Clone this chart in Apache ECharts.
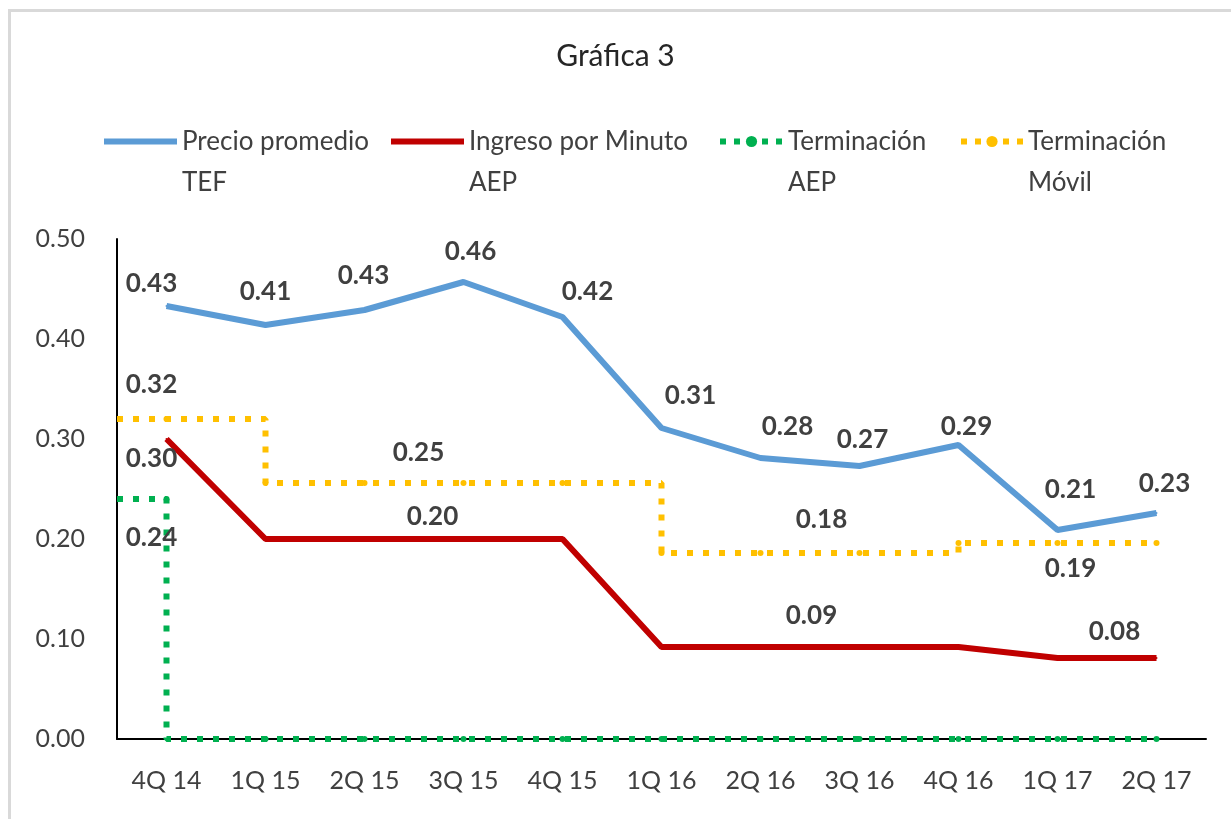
<!DOCTYPE html>
<html>
<head>
<meta charset="utf-8">
<script src="https://cdn.jsdelivr.net/npm/echarts@6/dist/echarts.min.js"></script>
<style>
  html, body { margin: 0; padding: 0; background: #ffffff; }
  #frame { position: absolute; left: 8px; top: 9px; width: 3000px; height: 3000px;
           border-left: 3px solid #d9d9d9; border-top: 3px solid #d9d9d9; box-sizing: border-box; }
  #chart { position: absolute; left: 0; top: 0; width: 1231px; height: 819px; }
</style>
</head>
<body>
<div id="frame"></div>
<div id="chart"></div>
<script>
// ---- data ----
const categories = ['4Q 14', '1Q 15', '2Q 15', '3Q 15', '4Q 15', '1Q 16', '2Q 16', '3Q 16', '4Q 16', '1Q 17', '2Q 17'];
const yTicks = [0.0, 0.1, 0.2, 0.3, 0.4, 0.5];
const seriesNames = ['Precio promedio\nTEF', 'Ingreso por Minuto\nAEP', 'Terminación\nAEP', 'Terminación\nMóvil'];
const precioTEF = [0.433, 0.414, 0.429, 0.457, 0.422, 0.311, 0.281, 0.273, 0.294, 0.209, 0.226];
const ingresoAEP = [0.30, 0.20, 0.20, 0.20, 0.20, 0.092, 0.092, 0.092, 0.092, 0.081, 0.081];
const terminacionAEP = [0.24, 0, 0, 0, 0, 0, 0, 0, 0, 0, 0];
const terminacionMovil = [0.32, 0.256, 0.256, 0.256, 0.256, 0.186, 0.186, 0.186, 0.196, 0.196, 0.196];

// ---- styles (label placement per point, px offsets from the point) ----
const labelOffsets = {
  tef: {0: [-15, -22], 1: [0, -33], 2: [-1, -34], 3: [7, -30], 4: [25, -25], 5: [29, -32], 6: [27, -31], 7: [3, -26], 8: [8, -18], 9: [13, -40], 10: [8, -29]},
  aep: {0: [-15, 20], 3: [-31, -22], 7: [-48, -31], 10: [-42, -26]},
  tAep: {0: [-15, 39]},
  movil: {0: [-15, -34], 3: [-45, -30], 7: [-38, -33], 9: [13, 26]}
};
const FONT = 'Lato, "Open Sans", sans-serif';
const labelFont = { fontFamily: FONT, fontSize: 26, fontWeight: 'bold', color: '#404040' };

const round2 = v => v.toFixed(2);
const trunc2 = v => (Math.floor(v * 100 + 1e-6) / 100).toFixed(2);

function catData(values, offsets, fmt) {
  return values.map((v, i) => {
    const o = offsets[i];
    return o ? { value: v, label: Object.assign({ show: true, position: 'inside', offset: o, formatter: () => fmt(v) }, labelFont) } : { value: v };
  });
}
// step data on the hidden value x-axis (category index units), starting at the plot's left edge
function stepData(values, offsets, fmt) {
  const out = [{ value: [-0.5, values[0]], symbol: 'none' }];
  values.forEach((v, i) => {
    const o = offsets[i];
    const d = { value: [i, v] };
    if (o) d.label = Object.assign({ show: true, position: 'inside', offset: o, formatter: () => fmt(v) }, labelFont);
    out.push(d);
  });
  return out;
}

const chart = echarts.init(document.getElementById('chart'), null, { renderer: 'canvas' });

function legendFor(name, left, itemWidth, color, dotted) {
  return {
    data: [{ name: name, itemStyle: dotted ? { color: color, opacity: 1 } : { opacity: 0 } }],
    left: left, top: 80, padding: 0, itemWidth: itemWidth, itemHeight: 14,
    selectedMode: false,
    formatter: n => ' \n' + n,
    lineStyle: { width: 6, color: color, type: dotted ? [6, 8] : 'solid', cap: 'butt' },
    textStyle: { fontFamily: FONT, fontSize: 26, color: '#404040', lineHeight: 41 }
  };
}

chart.setOption({
  animation: false,
  backgroundColor: 'transparent',
  title: {
    text: 'Gráfica 3', left: 'center', top: 36,
    textStyle: { fontFamily: FONT, fontSize: 30, fontWeight: 'normal', color: '#262626' }
  },
  legend: [
    legendFor(seriesNames[0], 101, 73, '#5B9BD5', false),
    legendFor(seriesNames[1], 388, 73, '#C00000', false),
    legendFor(seriesNames[2], 717, 63, '#00B050', true),
    legendFor(seriesNames[3], 958, 62, '#FFC000', true)
  ],
  grid: { left: 117, right: 25, top: 239, bottom: 80 },
  xAxis: [
    {
      type: 'category', data: categories, boundaryGap: true,
      axisLine: { lineStyle: { color: '#000000', width: 2 } },
      axisTick: { show: false },
      axisLabel: { fontFamily: FONT, fontSize: 25, color: '#404040', margin: 29 }
    },
    { type: 'value', min: -0.5, max: categories.length - 0.5, show: false }
  ],
  yAxis: {
    type: 'value', min: yTicks[0], max: yTicks[yTicks.length - 1], interval: 0.1,
    axisLine: { show: true, onZero: false, lineStyle: { color: '#000000', width: 2 } },
    axisTick: { show: false },
    splitLine: { show: false },
    axisLabel: { fontFamily: FONT, fontSize: 25, color: '#404040', margin: 32, formatter: v => v.toFixed(2) }
  },
  series: [
    {
      name: seriesNames[0], type: 'line', xAxisIndex: 0, silent: true,
      data: catData(precioTEF, labelOffsets.tef, round2),
      symbol: 'circle', symbolSize: 2,
      lineStyle: { color: '#5B9BD5', width: 6 }, itemStyle: { color: '#5B9BD5' }, z: 4
    },
    {
      name: seriesNames[1], type: 'line', xAxisIndex: 0, silent: true,
      data: catData(ingresoAEP, labelOffsets.aep, round2),
      symbol: 'circle', symbolSize: 2,
      lineStyle: { color: '#C00000', width: 6 }, itemStyle: { color: '#C00000' }, z: 3
    },
    {
      name: seriesNames[2], type: 'line', xAxisIndex: 1, silent: true, step: 'start',
      data: stepData(terminacionAEP, labelOffsets.tAep, round2),
      symbol: 'circle', symbolSize: 6,
      lineStyle: { color: '#00B050', width: 6, type: [6, 10], cap: 'butt' }, itemStyle: { color: '#00B050' }, z: 5
    },
    {
      name: seriesNames[3], type: 'line', xAxisIndex: 1, silent: true, step: 'end',
      data: stepData(terminacionMovil, labelOffsets.movil, trunc2),
      symbol: 'circle', symbolSize: 6,
      lineStyle: { color: '#FFC000', width: 6, type: [6, 10], cap: 'butt' }, itemStyle: { color: '#FFC000' }, z: 5
    }
  ]
});
</script>
</body>
</html>
